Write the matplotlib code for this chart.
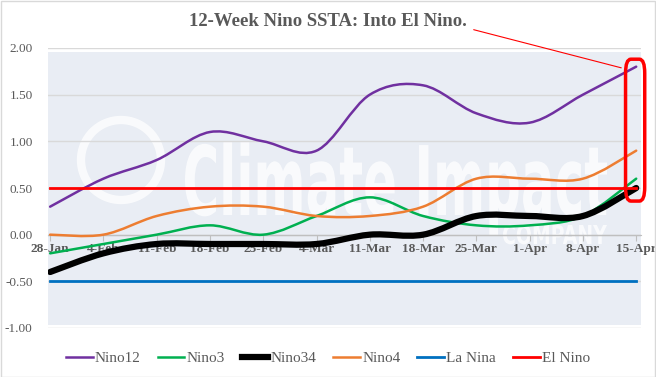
import numpy as np
import matplotlib.pyplot as plt
from matplotlib.path import Path
from matplotlib.patches import PathPatch, FancyBboxPatch, Rectangle, Ellipse
from matplotlib.lines import Line2D
from matplotlib.textpath import TextPath
from matplotlib.font_manager import FontProperties
from matplotlib.transforms import Affine2D

# weekly Nino SSTA values
weeks = ['28-Jan', '4-Feb', '11-Feb', '18-Feb', '25-Feb', '4-Mar',
         '11-Mar', '18-Mar', '25-Mar', '1-Apr', '8-Apr', '15-Apr']
nino12 = [0.3, 0.6, 0.8, 1.1, 1.0, 0.9, 1.5, 1.6, 1.3, 1.2, 1.5, 1.8]
nino3 = [-0.2, -0.1, 0.0, 0.1, 0.0, 0.2, 0.4, 0.2, 0.1, 0.1, 0.2, 0.6]
nino34 = [-0.4, -0.2, -0.1, -0.1, -0.1, -0.1, 0.0, 0.0, 0.2, 0.2, 0.2, 0.5]
nino4 = [0.0, 0.0, 0.2, 0.3, 0.3, 0.2, 0.2, 0.3, 0.6, 0.6, 0.6, 0.9]
la_nina = -0.5
el_nino = 0.5

yticks = [-1.0, -0.5, 0.0, 0.5, 1.0, 1.5, 2.0]

W, H = 656, 377


def smooth_path(x, y):
    # excel-like smoothed line: catmull-rom segments as cubic beziers
    p = np.column_stack([x, y]).astype(float)
    n = len(p)
    verts = [p[0]]
    codes = [Path.MOVETO]
    for i in range(n - 1):
        p0 = p[i - 1] if i > 0 else p[i]
        p3 = p[i + 2] if i + 2 < n else p[i + 1]
        c1 = p[i] + (p[i + 1] - p0) / 6
        c2 = p[i + 1] - (p3 - p[i]) / 6
        verts += [c1, c2, p[i + 1]]
        codes += [Path.CURVE4] * 3
    return Path(verts, codes)


def fitted_text(fig, s, left, right, base, cap, zorder):
    # text stretched into a pixel box (left/right x, baseline y from top, cap height)
    fp = FontProperties(family='DejaVu Sans', weight='bold')
    tp = TextPath((0, 0), s, size=1, prop=fp)
    bb = tp.get_extents()
    sx = (right - left) / bb.width
    sy = cap / 0.73
    tr = (Affine2D().translate(-bb.x0, 0).scale(sx, sy)
          .translate(left, H - base).scale(1 / W, 1 / H) + fig.transFigure)
    fig.patches.append(PathPatch(tp, transform=tr, fc='white', ec='none',
                                 alpha=0.75, zorder=zorder))


plt.rcParams['font.family'] = ['Liberation Serif', 'DejaVu Serif']

fig = plt.figure(figsize=(W / 100, H / 100), dpi=100)
fig.patches.append(Rectangle((0.001, 0.001), 0.997, 0.996, transform=fig.transFigure,
                             fill=False, ec='#D9D9D9', lw=1))
ax = fig.add_axes([48 / W, 49 / H, 593 / W, 280 / H])
ax.patch.set_alpha(0)

x = np.arange(len(weeks))
ax.set_xlim(-0.04, len(weeks) - 1 + 0.09)
ax.set_ylim(-1.0, 2.0)

# background image area + watermark logo
fig.patches.append(Rectangle((48 / W, 1 - 325 / H), 593 / W, 273 / H,
                             transform=fig.transFigure, fc='#E9EDF4', ec='none', zorder=-3))
fig.patches.append(Ellipse((121 / W, 1 - 160 / H), 80 / W, 80 / H, transform=fig.transFigure,
                           fill=False, ec='white', lw=6, alpha=0.75, zorder=-2))
fitted_text(fig, 'Climate Impact', 185, 607, 215, 70, -2)
fitted_text(fig, 'COMPANY', 503, 607, 244, 19, -2)

for v in yticks:
    ax.axhline(v, color='#BFBFBF' if v == 0 else '#D9D9D9', lw=1, zorder=1)

series = [
    ('Nino12', nino12, '#7030A0', 1.8),
    ('Nino3', nino3, '#00B050', 1.8),
    ('Nino34', nino34, 'black', 4.5),
    ('Nino4', nino4, '#ED7D31', 1.8),
]
handles = []
for name, vals, col, lw in series:
    ax.add_patch(PathPatch(smooth_path(x, vals), fill=False, ec=col, lw=lw,
                           capstyle='round', zorder=3))
    handles.append(Line2D([], [], color=col, lw=lw, label=name))

ax.plot([x[0], x[-1]], [la_nina, la_nina], color='#0070C0', lw=2, zorder=2)
ax.plot([x[0], x[-1]], [el_nino, el_nino], color='#FF0000', lw=2, zorder=4)
handles.append(Line2D([], [], color='#0070C0', lw=2, label='La Nina'))
handles.append(Line2D([], [], color='#FF0000', lw=2, label='El Nino'))

for s in ['top', 'right', 'left']:
    ax.spines[s].set_visible(False)
ax.spines['bottom'].set_position(('data', 0))
ax.spines['bottom'].set_color('#BFBFBF')
ax.set_xticks(x)
ax.set_xticklabels(weeks, fontsize=9.5, fontweight='bold', color='#595959')
ax.tick_params(axis='x', length=4, color='#BFBFBF', pad=2)
ax.set_yticks(yticks)
ax.set_yticklabels(['%.2f' % v for v in yticks], fontsize=9.5, color='#595959')
ax.tick_params(axis='y', length=0, pad=11)

fig.text(0.5, 0.942, '12-Week Nino SSTA: Into El Nino.', ha='center', va='center',
         fontsize=13.5, fontweight='bold', color='#595959')

# red highlight around last week
last = x[-1]
ax.add_patch(FancyBboxPatch((last - 0.2, 0.36), 0.36, 1.52,
                            boxstyle='round,pad=0,rounding_size=0.1',
                            mutation_aspect=1.5, fill=False, ec='#FF0000', lw=2.5,
                            clip_on=False, zorder=5))
ax.annotate('', xy=(last - 0.23, nino12[-1] - 0.02), xycoords='data',
            xytext=(471 / W, 1 - 29 / H), textcoords='figure fraction',
            arrowprops=dict(arrowstyle='-', color='#FF0000', lw=0.8), zorder=5)

fig.legend(handles=handles, loc='center', bbox_to_anchor=(0.5, 0.05), ncol=6,
           frameon=False, fontsize=11, handlelength=1.75, handletextpad=0.15,
           columnspacing=1.1, labelcolor='#595959')

fig.savefig('out.png', dpi=100)
